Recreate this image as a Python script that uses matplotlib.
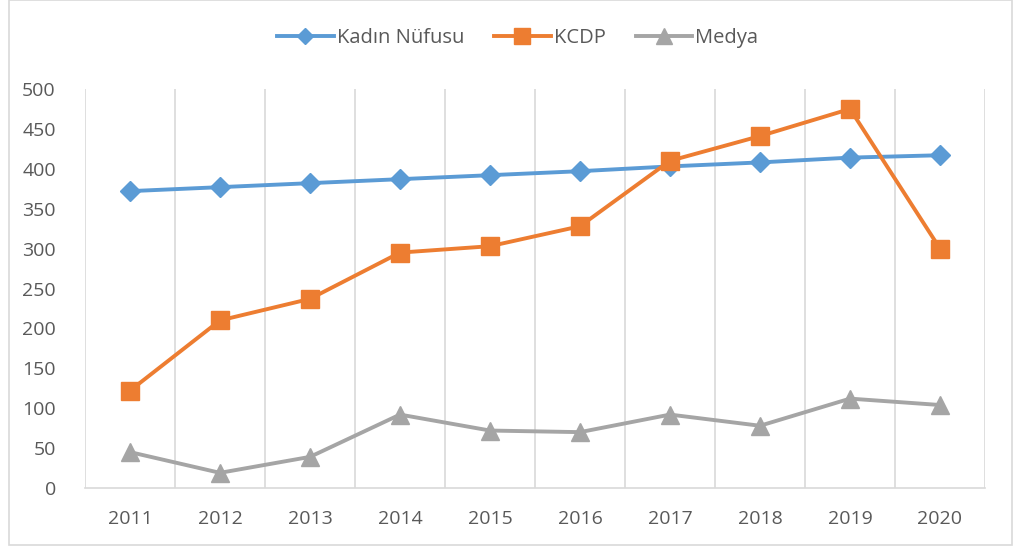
import matplotlib
matplotlib.use("Agg")
import matplotlib.pyplot as plt
from matplotlib.patches import Rectangle

years = ["2011", "2012", "2013", "2014", "2015", "2016", "2017", "2018", "2019", "2020"]
kadin_nufusu = [372, 377, 382, 387, 392, 397, 403, 408, 414, 417]
kcdp = [122, 210, 237, 295, 303, 328, 410, 441, 475, 300]
medya = [45, 19, 39, 92, 72, 70, 92, 78, 112, 104]
yticks = [0, 50, 100, 150, 200, 250, 300, 350, 400, 450, 500]

plt.rcParams['font.family'] = ['Open Sans', 'DejaVu Sans']
W, H = 1015, 550
fig = plt.figure(figsize=(W / 100, H / 100), dpi=100)
ax = fig.add_axes([85 / W, 1 - 488 / H, 900 / W, (488 - 89) / H])

x = list(range(len(years)))
ax.plot(x, kadin_nufusu, color='#5B9BD5', lw=2.8, marker='D', ms=10, label='Kadın Nüfusu', zorder=3)
ax.plot(x, kcdp, color='#ED7D31', lw=2.8, marker='s', ms=13, label='KCDP', zorder=4)
ax.plot(x, medya, color='#A5A5A5', lw=2.8, marker='^', ms=13, label='Medya', zorder=2)

ax.set_xlim(-0.5, len(years) - 0.5)
ax.set_ylim(0, 500)
ax.set_yticks(yticks)
ax.set_xticks(x)
ax.set_xticklabels(years)
for b in [i + 0.5 for i in range(-1, len(years))]:
    ax.axvline(b, color='#D9D9D9', lw=1.2, zorder=0)
for s in ['top', 'right', 'left']:
    ax.spines[s].set_visible(False)
ax.spines['bottom'].set_color('#D9D9D9')
ax.spines['bottom'].set_linewidth(1.2)
ax.tick_params(axis='both', length=0, colors='#595959')
ax.tick_params(axis='y', labelsize=14, pad=21)
ax.tick_params(axis='x', labelsize=14, pad=16)

fig.legend(loc='center', bbox_to_anchor=(0.51, 1 - 38 / H), ncol=3, frameon=False,
           fontsize=14.5, labelcolor='#595959', handlelength=2.8, handletextpad=0.15,
           columnspacing=1.5, markerscale=0.85)

fig.patches.append(Rectangle((9 / W, 5 / H), 1003 / W, 1 - 5 / H, transform=fig.transFigure,
                             fill=False, edgecolor='#D9D9D9', lw=1.2))
fig.savefig('out.png', dpi=100, facecolor='white')
